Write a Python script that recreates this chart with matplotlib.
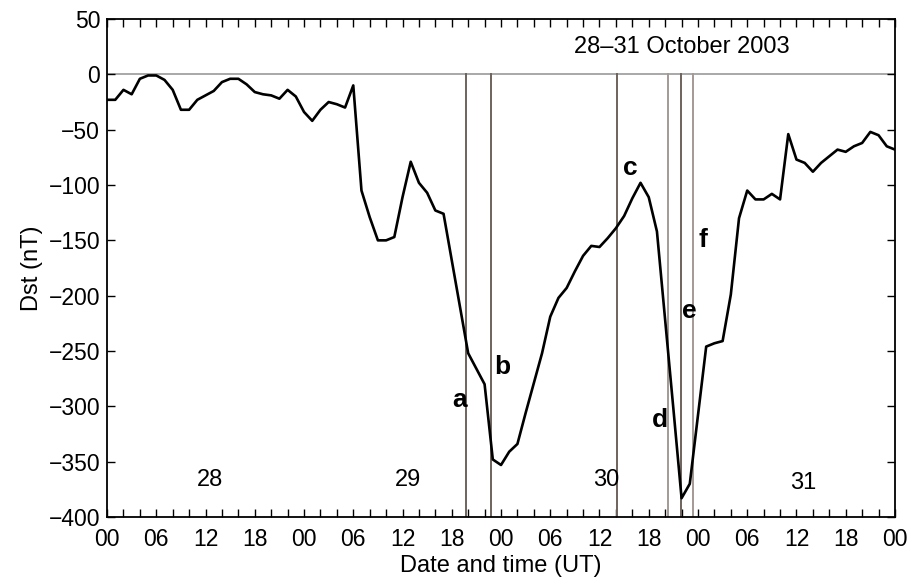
import matplotlib
matplotlib.use("Agg")
import matplotlib.pyplot as plt
from matplotlib.ticker import MultipleLocator, FixedLocator

plt.rcParams['font.family'] = ['Liberation Sans', 'DejaVu Sans']

# Hourly Dst index, 28 Oct 00 UT to 1 Nov 00 UT (hours since start)
hours = list(range(97))
dst = [-23, -23, -14, -18, -4, -1, -1, -5, -14, -32,
       -32, -23, -19, -15, -7, -4, -4, -9, -16, -18,
       -19, -22, -14, -20, -34, -42, -32, -25, -27, -30,
       -10, -105, -129, -150, -150, -147, -111, -79, -98, -107,
       -123, -126, -168, -210, -252, -266, -280, -348, -353, -341,
       -334, -306, -279, -252, -219, -202, -193, -178, -164, -155,
       -156, -148, -139, -128, -112, -98, -111, -142, -222, -302,
       -383, -370, -308, -246, -243, -241, -199, -130, -105, -113,
       -113, -108, -113, -54, -77, -80, -88, -80, -74, -68,
       -70, -65, -62, -52, -55, -65, -68]

# Event markers (hours since 28 Oct 00 UT)
event_names = ['a', 'b', 'c', 'd', 'e', 'f']
event_times = [43.73, 46.73, 62.08, 68.37, 69.9, 71.4]
event_colors = ['#6e625c', '#6e625c', '#6e625c', '#a39a95', '#6e625c', '#a39a95']
label_x = [43.0, 48.1, 63.7, 67.4, 70.9, 72.6]
label_y = [-294, -264, -85, -312, -214, -150]

day_names = ['28', '29', '30', '31']
day_x = [12.5, 36.7, 60.8, 84.8]
day_y = [-367, -367, -367, -369]

tick_labels = ['00', '06', '12', '18'] * 4 + ['00']
y_values = list(range(-400, 51, 50))

fig = plt.figure(figsize=(9.11, 5.80), dpi=100)
ax = fig.add_axes([0.1175, 0.1086, 0.8649, 0.8586])

ax.axhline(0, color='#9a9a9a', lw=1.2, zorder=1)
for t, c in zip(event_times, event_colors):
    ax.plot([t, t], [0, -400], color=c, lw=1.4, zorder=2)

ax.plot(hours, dst, color='black', lw=1.9, zorder=3)

for name, x, y in zip(event_names, label_x, label_y):
    ax.text(x, y, name, fontsize=19, fontweight='bold', ha='center', va='center')
for name, x, y in zip(day_names, day_x, day_y):
    ax.text(x, y, name, fontsize=17, ha='center', va='center')
ax.text(70.0, 25.0, '28\u201331 October 2003', fontsize=17, ha='center', va='center')

ax.set_xlim(0, 96)
ax.set_ylim(-400, 50)
ax.xaxis.set_major_locator(FixedLocator(list(range(0, 97, 6))))
ax.set_xticklabels(tick_labels)
ax.xaxis.set_minor_locator(MultipleLocator(2))
ax.set_yticks(y_values)
ax.set_yticklabels([str(v).replace('-', '\u2212') for v in y_values])

ax.tick_params(axis='both', which='both', direction='in', top=True, right=True,
               length=5.5, width=1.0, labelsize=16.5)
ax.tick_params(axis='x', which='major', pad=8)
ax.tick_params(axis='y', which='major', pad=5)
for s in ax.spines.values():
    s.set_linewidth(1.3)

ax.set_xlabel('Date and time (UT)', fontsize=17, labelpad=3)
ax.set_ylabel('Dst (nT)', fontsize=17, labelpad=4)

fig.savefig('out.png', dpi=100)
